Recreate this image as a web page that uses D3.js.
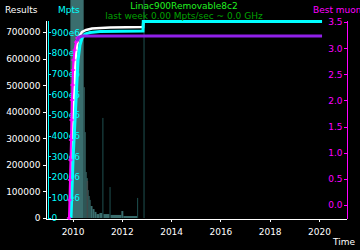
<!DOCTYPE html>
<html>
<head>
<meta charset="utf-8">
<script src="https://cdn.jsdelivr.net/npm/d3@7"></script>
<style>
  body { margin: 0; background: #000; }
  svg { display: block; font-family: "DejaVu Sans", sans-serif; font-size: 9px; }
</style>
</head>
<body>
<script>
var title = "Linac900Removable8c2";
var subtitle = "last week 0.00 Mpts/sec ~ 0.0 GHz";

var yearTicks = [2010, 2012, 2014, 2016, 2018, 2020];
var resultTicks = [0, 100000, 200000, 300000, 400000, 500000, 600000, 700000];
var mptsTicks = [0, 100e6, 200e6, 300e6, 400e6, 500e6, 600e6, 700e6, 800e6, 900e6];
var muonTicks = [0, 0.5, 1, 1.5, 2, 2.5, 3, 3.5];

// [year, results]
var results = [
  [2009.895, 0], [2009.976, 218300], [2010.118, 594600], [2010.179, 651100],
  [2010.26, 681200], [2010.382, 700000], [2010.545, 707600], [2010.788, 713200],
  [2011.519, 717000], [2012.859, 718800], [2012.87, 739500], [2020.127, 739500]
];

// [year, Mpts]
var mpts = [
  [2009.936, 0], [2010.017, 281e6], [2010.22, 766e6], [2010.30, 838e6],
  [2010.382, 872e6], [2010.504, 892e6], [2010.707, 899e6], [2011.113, 904e6],
  [2012.859, 907e6], [2012.87, 953e6], [2020.127, 953e6]
];

// [year, best muon] single results
var muon = [
  [2009.854, -0.249], [2009.875, 0.096], [2009.895, 0.478], [2009.915, 0.861],
  [2009.936, 1.243], [2009.956, 1.626], [2009.976, 2.008], [2009.997, 2.295],
  [2010.017, 2.582], [2010.037, 2.773], [2010.078, 2.964], [2010.139, 3.117],
  [2010.2, 3.194]
];

// running best
var bestMuon = [
  [2010.18, 3.13], [2010.26, 3.21], [2010.38, 3.232], [2020.127, 3.232]
];

// throughput histogram [from, to, Mpts/sec]
var histo = [
  [2009.91, 2010.45, 1000], [2010.45, 2010.49, 600], [2010.49, 2010.53, 394],
  [2010.53, 2010.57, 211], [2010.57, 2010.61, 183], [2010.61, 2010.65, 128],
  [2010.65, 2010.69, 101], [2010.69, 2010.73, 83], [2010.73, 2010.81, 55],
  [2010.81, 2010.89, 41], [2010.89, 2010.97, 28], [2010.97, 2011.09, 18],
  [2011.09, 2011.21, 23], [2011.25, 2011.50, 18], [2011.54, 2011.98, 14],
  [2011.98, 2012.06, 32], [2012.06, 2012.62, 9]
];
var histoSpikes = [
  [2011.21, 2011.25, 459], [2011.50, 2011.54, 142], [2012.62, 2012.66, 92],
  [2012.88, 2012.92, 1000]
];
var histoGrey = [
  [2010.57, 2010.63, 170]
];

var W = 360, H = 250;

var svg = d3.select("body").append("svg")
  .attr("width", W)
  .attr("height", H)
  .style("background", "#000");

var x = d3.scaleLinear().domain([2008.88, 2021.1]).range([45, 346]);
var yRes = d3.scaleLinear().domain([0, 745000]).range([218, 20]);
var yMpts = d3.scaleLinear().domain([0, 960e6]).range([218, 20]);
var yMuon = d3.scaleLinear().domain([-0.249, 3.54]).range([218, 20]);
var yHist = d3.scaleLinear().domain([0, 1000]).range([218, 0]).clamp(true);

// histogram behind everything
function drawHisto(data, color) {
  svg.append("g").selectAll("rect").data(data).enter().append("rect")
    .attr("x", d => x(d[0]))
    .attr("width", d => Math.max(1, x(d[1]) - x(d[0])))
    .attr("y", d => yHist(d[2]))
    .attr("height", d => 218 - yHist(d[2]))
    .attr("fill", color);
}
drawHisto(histo, "#3a6e6e");
drawHisto(histoSpikes, "#1f5050");
drawHisto(histoGrey, "#404848");

function styleAxis(g, color) {
  g.selectAll("path, line").attr("stroke", color).attr("shape-rendering", "crispEdges");
  g.selectAll("text").attr("fill", color).style("font-family", "DejaVu Sans").style("font-size", "9px");
  return g;
}

// axes
styleAxis(svg.append("g")
  .attr("transform", "translate(45.5,0)")
  .call(d3.axisLeft(yRes).tickValues(resultTicks).tickSize(3).tickSizeOuter(0).tickPadding(2)
    .tickFormat(d3.format("d"))), "#fff");

styleAxis(svg.append("g")
  .attr("transform", "translate(47.5,0)")
  .call(d3.axisRight(yMpts).tickValues(mptsTicks).tickSize(3).tickSizeOuter(0).tickPadding(1)
    .tickFormat(d => d === 0 ? "0" : (d / 1e6) + "e6")), "#00ffff");

styleAxis(svg.append("g")
  .attr("transform", "translate(346.5,0)")
  .call(d3.axisLeft(yMuon).tickValues(muonTicks).tickSize(3).tickSizeOuter(0).tickPadding(1)
    .tickFormat(d3.format(".1f"))), "#ff00ff");

styleAxis(svg.append("g")
  .attr("transform", "translate(0,218.5)")
  .call(d3.axisBottom(x).tickValues(yearTicks).tickSize(3).tickSizeOuter(0).tickPadding(7)
    .tickFormat(d3.format("d"))), "#fff");

// lines
function drawLine(data, yScale, color, width) {
  svg.append("path")
    .datum(data)
    .attr("fill", "none")
    .attr("stroke", color)
    .attr("stroke-width", width)
    .attr("d", d3.line().x(d => x(d[0])).y(d => yScale(d[1])));
}
drawLine(results, yRes, "#fff", 2.5);
drawLine(mpts, yMpts, "#00ffff", 3);
drawLine(muon, yMuon, "#ff00ff", 2);

svg.append("g").selectAll("path").data(muon).enter().append("path")
  .attr("transform", d => "translate(" + x(d[0]) + "," + yMuon(d[1]) + ")")
  .attr("d", d3.symbol(d3.symbolCross).size(10))
  .attr("fill", "#ff00ff");

drawLine(bestMuon, yMuon, "#9020e8", 3);

// texts
svg.append("text").attr("x", 184).attr("y", 9).attr("text-anchor", "middle")
  .attr("fill", "#20f020").text(title);
svg.append("text").attr("x", 184).attr("y", 18.5).attr("text-anchor", "middle")
  .attr("fill", "#00a000").text(subtitle);
svg.append("text").attr("x", 5).attr("y", 12.5).attr("fill", "#fff").text("Results");
svg.append("text").attr("x", 58).attr("y", 12.5).attr("fill", "#00ffff").text("Mpts");
svg.append("text").attr("x", 313).attr("y", 12.5).attr("fill", "#ff00ff").text("Best muon");
svg.append("text").attr("x", 355).attr("y", 245).attr("text-anchor", "end")
  .attr("fill", "#fff").text("Time");
</script>
</body>
</html>
